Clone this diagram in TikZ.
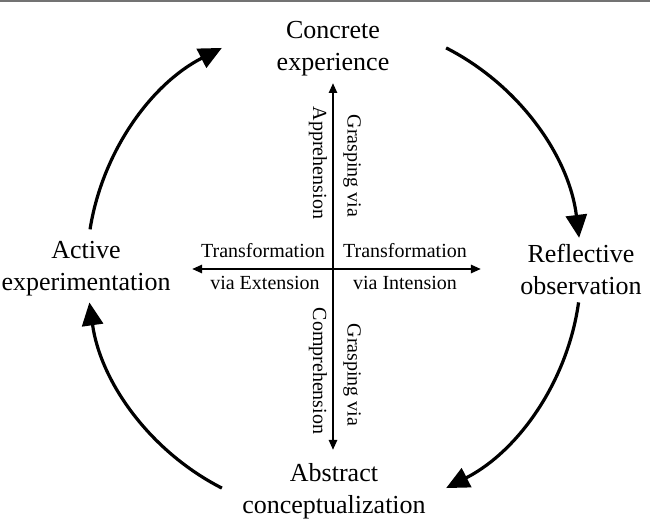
\documentclass[tikz,border=0pt]{standalone}
\usepackage{fontspec}
\setmainfont{Liberation Serif}
\usetikzlibrary{arrows.meta,calc}

\begin{document}
\begin{tikzpicture}[x=0.5pt,y=0.5pt,
  stage/.style={align=center,inner sep=0pt,font=\fontsize{13pt}{16pt}\selectfont},
  mode/.style={inner sep=0pt,font=\fontsize{10pt}{12pt}\selectfont},
  cyclearrow/.style={line width=1.6pt,-{Triangle[length=11.5pt,width=10.5pt]}},
  crossarrow/.style={line width=1.2pt,{Triangle[length=5pt,width=4pt]}-{Triangle[length=5pt,width=4pt]}}]
\useasboundingbox (0,0) rectangle (650,521);
%rule along the top
\draw[black!55,line width=0.8pt] (0,520.2) -- (650,520.2);
%the four stages
\node[stage] (ce) at (333,472) {Concrete\\experience};
\node[stage] (ro) at (581,252) {Reflective\\observation};
\node[stage] (ac) at (334,30) {Abstract\\conceptualization};
\node[stage] (ae) at (86,252) {Active\\experimentation};
%the cycle round them
\coordinate (c) at (334,253);
\foreach \a/\b [count=\i] in {171/117, 63/7, -8/-63, -117/-172}{
  \coordinate (s\i) at ($(c)+(\a:123.5pt)$);
  \draw[cyclearrow] (s\i) arc[start angle=\a, end angle=\b, radius=123.5pt];
}
%the two axes
\coordinate (top) at (333,438);
\coordinate (bot) at (333,71);
\coordinate (west) at (192,252);
\coordinate (east) at (481,252);
\draw[crossarrow] (bot) -- (top);
\draw[crossarrow] (west) -- (east);
%labels along the axes
\node[mode] (te) at (263,270) {Transformation};
\node[mode] (ve) at (265,238) {via Extension};
\node[mode] (ti) at (405,270) {Transformation};
\node[mode] (vi) at (405,238) {via Intension};
\node[mode,rotate=-90] (ap) at (318,358) {Apprehension};
\node[mode,rotate=-90] (ga) at (352,355) {Grasping via};
\node[mode,rotate=-90] (co) at (318,150) {Comprehension};
\node[mode,rotate=-90] (gc) at (352,146) {Grasping via};
\end{tikzpicture}
\end{document}
